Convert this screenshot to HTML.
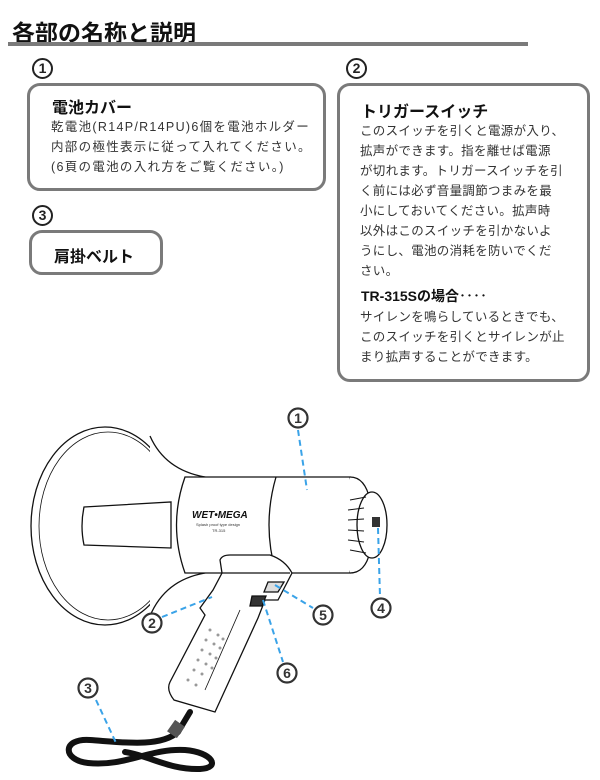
<!DOCTYPE html>
<html><head><meta charset="utf-8"><style>
body{margin:0;width:600px;height:780px;background:#fff;position:relative;overflow:hidden;font-family:"Liberation Sans","Noto Sans CJK JP",sans-serif;color:#222}
.a{position:absolute;white-space:nowrap}
.box{position:absolute;border:3.5px solid #7a7a7a;border-radius:13px;box-sizing:border-box;background:#fff}
.t{font-weight:bold;font-size:16px;color:#111}
.b{font-size:12.5px;color:#333;line-height:20px;letter-spacing:0.3px}
.n{position:absolute;width:21px;height:21px;border:2.5px solid #222;border-radius:50%;box-sizing:border-box;font-weight:bold;font-size:14px;text-align:center;line-height:17px;color:#222}
</style></head><body>
<div class="a" style="left:12px;top:14px;font-size:23px;font-weight:bold;color:#111">各部の名称と説明</div>
<div class="a" style="left:8px;top:42px;width:520px;height:4px;background:#7a7a7a"></div>

<div class="n" style="left:32px;top:58px">1</div>
<div class="box" style="left:27px;top:83px;width:299px;height:108px"></div>
<div class="a t" style="left:52px;top:94px">電池カバー</div>
<div class="a b" style="left:51px;top:117px;letter-spacing:1.3px">乾電池(R14P/R14PU)6個を電池ホルダー<br>内部の極性表示に従って入れてください。<br>(6頁の電池の入れ方をご覧ください。)</div>

<div class="n" style="left:32px;top:205px">3</div>
<div class="box" style="left:29px;top:230px;width:134px;height:45px"></div>
<div class="a t" style="left:54px;top:243px;font-size:16px">肩掛ベルト</div>

<div class="n" style="left:346px;top:58px">2</div>
<div class="box" style="left:337px;top:83px;width:253px;height:299px"></div>
<div class="a t" style="left:361px;top:98px">トリガースイッチ</div>
<div class="a b" style="left:360px;top:121px">このスイッチを引くと電源が入り、<br>拡声ができます。指を離せば電源<br>が切れます。トリガースイッチを引<br>く前には必ず音量調節つまみを最<br>小にしておいてください。拡声時<br>以外はこのスイッチを引かないよ<br>うにし、電池の消耗を防いでくだ<br>さい。</div>
<div class="a t" style="left:361px;top:286px;font-size:14px">TR-315Sの場合‥‥</div>
<div class="a b" style="left:360px;top:307px">サイレンを鳴らしているときでも、<br>このスイッチを引くとサイレンが止<br>まり拡声することができます。</div>

<svg class="a" style="left:0;top:0" width="600" height="780" viewBox="0 0 600 780">
<g fill="#fff" stroke="#111" stroke-width="1.3">
<ellipse cx="105" cy="526" rx="74" ry="99"/>
<ellipse cx="108" cy="526" rx="69" ry="94" fill="none" stroke-width="0.8"/>
<path d="M150 436 Q165 470 205 477 L205 573 Q165 580 150 616" />
<path d="M84 507 L171 502 L171 548 L84 545 Q80 526 84 507 Z"/>
<path d="M185 477 L350 477 Q362 525 350 573 L185 573 Q168 525 185 477 Z"/>
<path d="M276 477 Q262 525 276 573" fill="none"/>
<path d="M350 477 Q365 477 370 500 L370 552 Q365 573 350 573" />
<ellipse cx="372" cy="525" rx="15" ry="33"/>
<g stroke-width="1">
<line x1="350" y1="500" x2="366" y2="497"/><line x1="348" y1="510" x2="364" y2="508"/><line x1="348" y1="520" x2="364" y2="519"/><line x1="348" y1="530" x2="364" y2="531"/><line x1="348" y1="540" x2="364" y2="542"/><line x1="350" y1="550" x2="366" y2="553"/>
</g>
<rect x="372" y="517" width="8" height="10" fill="#333" stroke="none"/>
<path d="M220 560 Q222 555 230 555 L270 555 Q285 560 292 573 L278 600 L265 600 L258 618 L215 712 L174 700 Q166 690 170 682 L205 615 L200 608 L213 590 L222 573 Z"/>
<path d="M222 573 L290 573" fill="none"/>
<path d="M268 582 L284 582 L278 592 L264 592 Z" fill="#ddd"/>
<path d="M252 596 L266 596 L262 606 L250 606 Z" fill="#333"/>
<path d="M240 610 L205 690" fill="none" stroke-width="0.8"/>
</g>
<g fill="#999">
<circle cx="210" cy="630" r="1.5"/><circle cx="218" cy="635" r="1.5"/><circle cx="223" cy="639" r="1.5"/>
<circle cx="206" cy="640" r="1.5"/><circle cx="214" cy="644" r="1.5"/><circle cx="220" cy="648" r="1.5"/>
<circle cx="202" cy="650" r="1.5"/><circle cx="210" cy="654" r="1.5"/><circle cx="216" cy="658" r="1.5"/>
<circle cx="198" cy="660" r="1.5"/><circle cx="206" cy="664" r="1.5"/><circle cx="212" cy="668" r="1.5"/>
<circle cx="194" cy="670" r="1.5"/><circle cx="202" cy="674" r="1.5"/><circle cx="188" cy="680" r="1.5"/><circle cx="196" cy="685" r="1.5"/>
</g>
<text x="192" y="518" font-size="10" font-weight="bold" font-style="italic" fill="#111" font-family="Liberation Sans">WET•MEGA</text>
<text x="196" y="526" font-size="4" fill="#333" font-family="Liberation Sans">Splash proof type design</text>
<text x="212" y="532" font-size="4" fill="#333" font-family="Liberation Sans">TR-315</text>
<!-- strap -->
<path d="M190 712 L178 732 C160 748 120 742 90 740 C62 738 62 760 88 763 C125 767 150 748 185 750 C212 752 222 768 200 769 C170 770 150 756 125 752" fill="none" stroke="#111" stroke-width="6" stroke-linecap="round"/>
<rect x="170" y="722" width="12" height="14" fill="#555" transform="rotate(35 176 729)"/>
<g stroke="#3aa3e8" stroke-width="2" stroke-dasharray="6 4" fill="none">
<line x1="298" y1="430" x2="307" y2="490"/>
<line x1="378" y1="528" x2="380" y2="597"/>
<line x1="275" y1="585" x2="313" y2="608"/>
<line x1="162" y1="617" x2="212" y2="597"/>
<line x1="263" y1="600" x2="283" y2="662"/>
<line x1="96" y1="700" x2="117" y2="745"/>
</g>
<g font-family="Liberation Sans" font-weight="bold" font-size="14" fill="#333" text-anchor="middle" stroke-width="2.2">
<circle cx="298" cy="418" r="9.5" fill="#fff" stroke="#333"/><text x="298" y="423">1</text>
<circle cx="381" cy="608" r="9.5" fill="#fff" stroke="#333"/><text x="381" y="613">4</text>
<circle cx="323" cy="615" r="9.5" fill="#fff" stroke="#333"/><text x="323" y="620">5</text>
<circle cx="152" cy="623" r="9.5" fill="#fff" stroke="#333"/><text x="152" y="628">2</text>
<circle cx="287" cy="673" r="9.5" fill="#fff" stroke="#333"/><text x="287" y="678">6</text>
<circle cx="88" cy="688" r="9.5" fill="#fff" stroke="#333"/><text x="88" y="693">3</text>
</g>
</svg>
</body></html>
